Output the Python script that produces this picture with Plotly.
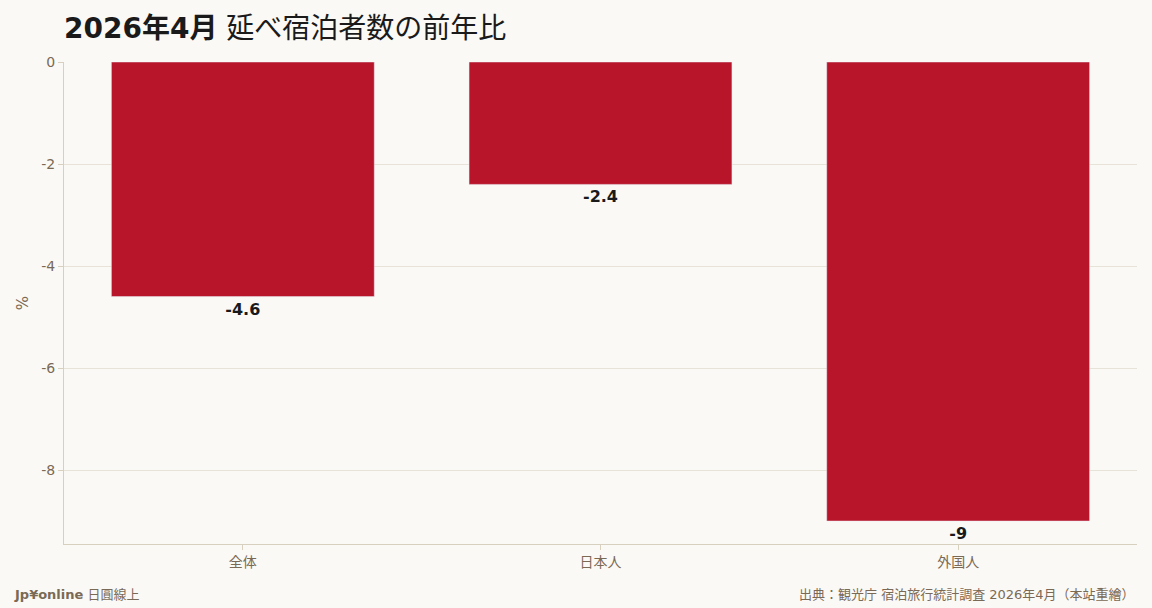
import plotly.graph_objects as go

categories = ['全体', '日本人', '外国人']
values = [-4.6, -2.4, -9]
labels = ['-4.6', '-2.4', '-9']
y_tickvals = [0, -2, -4, -6, -8]
y_ticktext = ['0', '-2', '-4', '-6', '-8']

bg = '#fbf9f5'
bar_color = '#b8152b'
muted = '#7a6a55'
font_family = 'DejaVu Sans, Noto Sans CJK JP, sans-serif'

W, H = 1152, 608
ML, MR, MT, MB = 64, 15, 62, 64

fig = go.Figure()
fig.add_trace(go.Bar(
    x=categories, y=values, text=labels, textposition='outside',
    marker_color=bar_color, cliponaxis=False,
    textfont=dict(size=16, color='#1a1a1a', family=font_family, weight='bold'),
    hoverinfo='skip',
))

fig.update_layout(
    width=W, height=H,
    paper_bgcolor=bg, plot_bgcolor=bg,
    font=dict(family=font_family, color=muted, size=14),
    margin=dict(l=ML, r=MR, t=MT, b=MB),
    bargap=0.265,
    showlegend=False,
    title=dict(
        text='<b>2026年4月</b> 延べ宿泊者数の前年比',
        x=0, xref='paper', xanchor='left', y=1 - 28 / H, yanchor='middle',
        font=dict(size=28, color='#1a1a1a', family=font_family),
    ),
)
fig.update_xaxes(
    showline=True, linecolor='#d8d0bf', linewidth=1,
    ticks='outside', tickcolor='#d8d0bf', ticklen=5,
    tickfont=dict(size=14, color=muted),
)
fig.update_yaxes(
    range=[-9.45, 0], tickvals=y_tickvals, ticktext=y_ticktext,
    showline=True, linecolor='#d8d0bf', linewidth=1,
    ticks='outside', tickcolor='#d8d0bf', ticklen=5,
    gridcolor='#e8e3d8', zeroline=False,
    tickfont=dict(size=14, color=muted),
    title=dict(text='%', font=dict(size=15, color=muted), standoff=8),
)

plot_h = H - MT - MB
plot_w = W - ML - MR
foot_y = (H - MB - 594) / plot_h
fig.add_annotation(
    text='<b>Jp¥online</b> 日圓線上', x=(12 - ML) / plot_w, y=foot_y,
    xref='paper', yref='paper', showarrow=False, xanchor='left', yanchor='middle',
    font=dict(size=13, color=muted),
)
fig.add_annotation(
    text='出典：観光庁 宿泊旅行統計調査 2026年4月（本站重繪）', x=1, y=foot_y,
    xref='paper', yref='paper', showarrow=False, xanchor='right', yanchor='middle',
    font=dict(size=13, color=muted),
)

fig.write_html(
    'out.html',
    config={'displayModeBar': False},
    post_script="document.body.style.margin='0';document.body.style.background='%s';" % bg,
)
